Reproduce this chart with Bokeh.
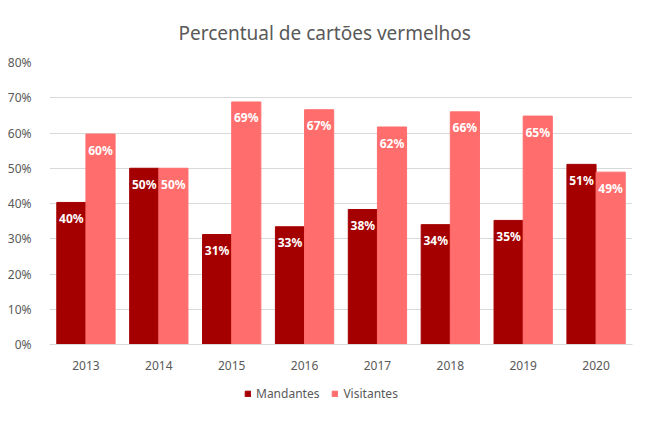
from bokeh.plotting import figure
from bokeh.layouts import column
from bokeh.models import ColumnDataSource, FactorRange, Legend, LegendItem, NumeralTickFormatter
from bokeh.transform import dodge
from bokeh.core.properties import value
from bokeh.embed import file_html
from bokeh.resources import INLINE

years = ["2013", "2014", "2015", "2016", "2017", "2018", "2019", "2020"]
mandantes = [0.403, 0.500, 0.312, 0.334, 0.383, 0.340, 0.352, 0.511]
visitantes = [0.597, 0.500, 0.688, 0.666, 0.617, 0.660, 0.648, 0.489]
y_ticks = [0, 0.1, 0.2, 0.3, 0.4, 0.5, 0.6, 0.7, 0.8]
title_text = "Percentual de cartões vermelhos"
series_names = ["Mandantes", "Visitantes"]

DARK = "#a50000"
LIGHT = "#ff6d6d"
GRAY = "#595959"
FONT = "Noto Sans"

src = ColumnDataSource(dict(
    x=years,
    m=mandantes,
    v=visitantes,
    ml=[f"{round(a * 100)}%" for a in mandantes],
    vl=[f"{round(a * 100)}%" for a in visitantes],
))

p = figure(
    x_range=FactorRange(*years, range_padding=0),
    y_range=(0, 0.8),
    width=634, height=372,
    output_backend="svg", toolbar_location=None,
    min_border_left=49, min_border_right=2, min_border_top=59, min_border_bottom=27,
    title=title_text,
)
p.title.align = "left"
p.title.offset = 129
p.title.standoff = 34
p.title.text_font = FONT
p.title.text_font_size = "19px"
p.title.text_color = GRAY
p.title.text_font_style = "normal"

r1 = p.vbar(x=dodge("x", -0.2, range=p.x_range), top="m", width=0.4, source=src,
            fill_color=DARK, line_color=DARK)
r2 = p.vbar(x=dodge("x", 0.2, range=p.x_range), top="v", width=0.4, source=src,
            fill_color=LIGHT, line_color=LIGHT)

for col, lab, off in (("m", "ml", -0.2), ("v", "vl", 0.2)):
    p.text(x=dodge("x", off, range=p.x_range), y=col, text=lab, source=src,
           text_align="center", text_baseline="middle", y_offset=16,
           text_color="white", text_font=value(FONT), text_font_size="12px",
           text_font_style="bold")

p.yaxis.ticker = y_ticks
p.yaxis.formatter = NumeralTickFormatter(format="0%")
p.yaxis.axis_line_color = None
p.yaxis.major_tick_line_color = None
p.yaxis.minor_tick_line_color = None
p.yaxis.major_label_standoff = 12
p.xaxis.axis_line_color = "#d9d9d9"
p.xaxis.major_tick_line_color = None
p.xaxis.minor_tick_line_color = None
p.xaxis.major_label_standoff = 10
for ax in (p.xaxis, p.yaxis):
    ax.major_label_text_font = FONT
    ax.major_label_text_font_size = "12px"
    ax.major_label_text_color = GRAY

p.xgrid.grid_line_color = None
p.ygrid.grid_line_color = "#d9d9d9"
p.ygrid.ticker = y_ticks
p.outline_line_color = None

# legend strip below the chart (its bars lie outside its visible y range,
# so only the legend swatches show)
lg = figure(width=634, height=34, output_backend="svg", toolbar_location=None,
            min_border=0, x_range=FactorRange(*years, range_padding=0), y_range=(1, 2))
lg.axis.visible = False
lg.grid.visible = False
lg.outline_line_color = None
g1 = lg.vbar(x=dodge("x", -0.2, range=lg.x_range), top="m", width=0.4, source=src,
             fill_color=DARK, line_color=DARK)
g2 = lg.vbar(x=dodge("x", 0.2, range=lg.x_range), top="v", width=0.4, source=src,
             fill_color=LIGHT, line_color=LIGHT)

legend = Legend(items=[LegendItem(label=series_names[0], renderers=[g1]),
                       LegendItem(label=series_names[1], renderers=[g2])],
                orientation="horizontal", location=(195, 4))
legend.label_text_font = FONT
legend.label_text_font_size = "12px"
legend.label_text_color = GRAY
legend.glyph_width = 7
legend.glyph_height = 7
legend.label_standoff = 5
legend.spacing = 12
legend.border_line_color = None
legend.background_fill_alpha = 0
legend.padding = 2
legend.margin = 0
lg.add_layout(legend, "center")

layout = column(p, lg, spacing=0)

open("out.html", "w").write(file_html(layout, INLINE))
